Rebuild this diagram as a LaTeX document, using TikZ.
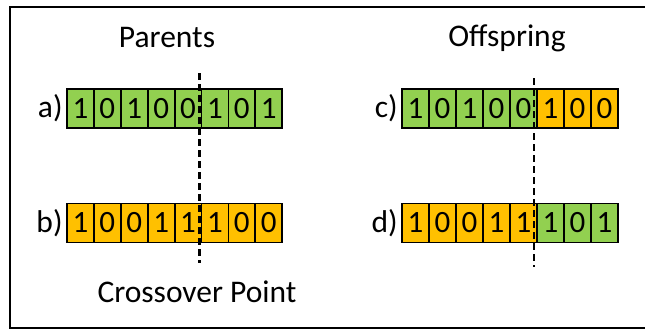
\documentclass[tikz,border=0pt]{standalone}
\usepackage{fontspec}
\setmainfont{Carlito}
\usetikzlibrary{positioning}
\definecolor{genegreen}{HTML}{92D050}
\definecolor{geneorange}{HTML}{FFC000}
\tikzset{bit/.style={draw,line width=1.8pt,minimum width=26.9pt,minimum height=39pt,inner sep=0pt,font=\fontsize{31}{33}\selectfont},
  title/.style={font=\fontsize{31.5}{34}\selectfont},
  cut/.style={dashed,line width=2.2pt,dash pattern=on 7pt off 4pt}}

\begin{document}
\begin{tikzpicture}[x=1pt,y=-1pt]
\useasboundingbox (0,0) rectangle (645,330);
\draw[line width=1.5pt] (648,7) -- (10,7) -- (10,328) -- (648,328);
\node[title] (parents) at (167,38) {Parents};
\node[title] (offspring) at (507,38) {Offspring};
% parents
\foreach \b [count=\i] in {1,0,1,0,0,1,0,1}
  \node[bit,fill=genegreen] (a\i) at ({67+(\i-0.5)*26.9},108.5) {\b};
\foreach \b [count=\i] in {1,0,0,1,1,1,0,0}
  \node[bit,fill=geneorange] (b\i) at ({67+(\i-0.5)*26.9},223) {\b};
% offspring
\foreach \b [count=\i] in {1,0,1,0,0,1,0,0}{
  \ifnum\i<6 \def\col{genegreen}\else\def\col{geneorange}\fi
  \node[bit,fill=\col] (c\i) at ({402+(\i-0.5)*27},108.5) {\b};}
\foreach \b [count=\i] in {1,0,0,1,1,1,0,1}{
  \ifnum\i<6 \def\col{geneorange}\else\def\col{genegreen}\fi
  \node[bit,fill=\col] (d\i) at ({402+(\i-0.5)*27},223) {\b};}
\node[title,left=0pt of a1] (la) {a)};
\node[title,left=0pt of b1] (lb) {b)};
\node[title,left=0pt of c1] (lc) {c)};
\node[title,left=0pt of d1] (ld) {d)};
% crossover points
\coordinate (p top) at (199.5,73);
\coordinate (p bot) at (199.5,263);
\coordinate (o top) at (534,78);
\coordinate (o bot) at (534,267);
\draw[cut] (p top) -- (p bot);
\draw[cut] (o top) -- (o bot);
\node[title] (xpoint) at (197,292) {Crossover Point};
\end{tikzpicture}
\end{document}
